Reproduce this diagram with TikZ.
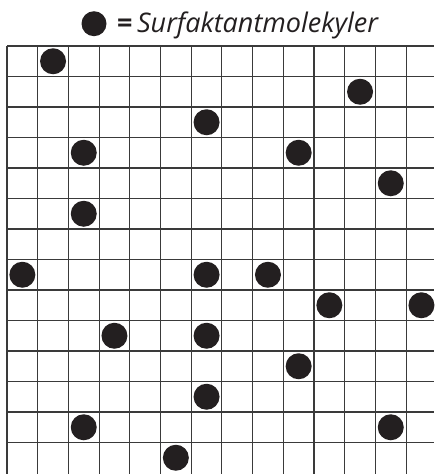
\documentclass[tikz,border=0pt]{standalone}
\usepackage{fontspec}
\setsansfont{Open Sans}
\usetikzlibrary{positioning}
\definecolor{inkblack}{HTML}{231F20}
\definecolor{gridgray}{HTML}{3A3A3A}
\tikzset{
  molecule/.style={circle,fill=inkblack,minimum size=26pt,inner sep=0pt},
  gridline/.style={draw=gridgray,line width=1.1pt},
  legend/.style={font=\sffamily\itshape\fontsize{27}{27}\selectfont,text=inkblack,inner sep=0pt}
}
\begin{document}
\begin{tikzpicture}[x=1pt,y=-1pt]
  \useasboundingbox (0,0) rectangle (434,474);
  % grid
  \foreach \i in {0,...,13}
    \draw[gridline] ({7+30.7*\i},46) -- ({7+30.7*\i},474);
  \foreach \j in {0,...,13}
    \draw[gridline] (7,{46+30.5*\j}) -- (434,{46+30.5*\j});
  % molecules (column/row)
  \foreach \c/\r [count=\n] in {1/0,11/1,6/2,2/3,9/3,12/4,2/5,0/7,6/7,8/7,10/8,13/8,
      3/9,6/9,9/10,6/11,2/12,12/12,5/13}
    \node[molecule] (mol\n) at ({7+30.7*(\c+0.5)},{46+30.5*(\r+0.5)}) {};
  % legend
  \node[molecule,minimum size=25pt] (legenddot) at (94,23.7) {};
  \node[legend,anchor=base west] (legendtext) at (117,32) {{\upshape\bfseries=}\,Surfaktantmolekyler};
\end{tikzpicture}
\end{document}
